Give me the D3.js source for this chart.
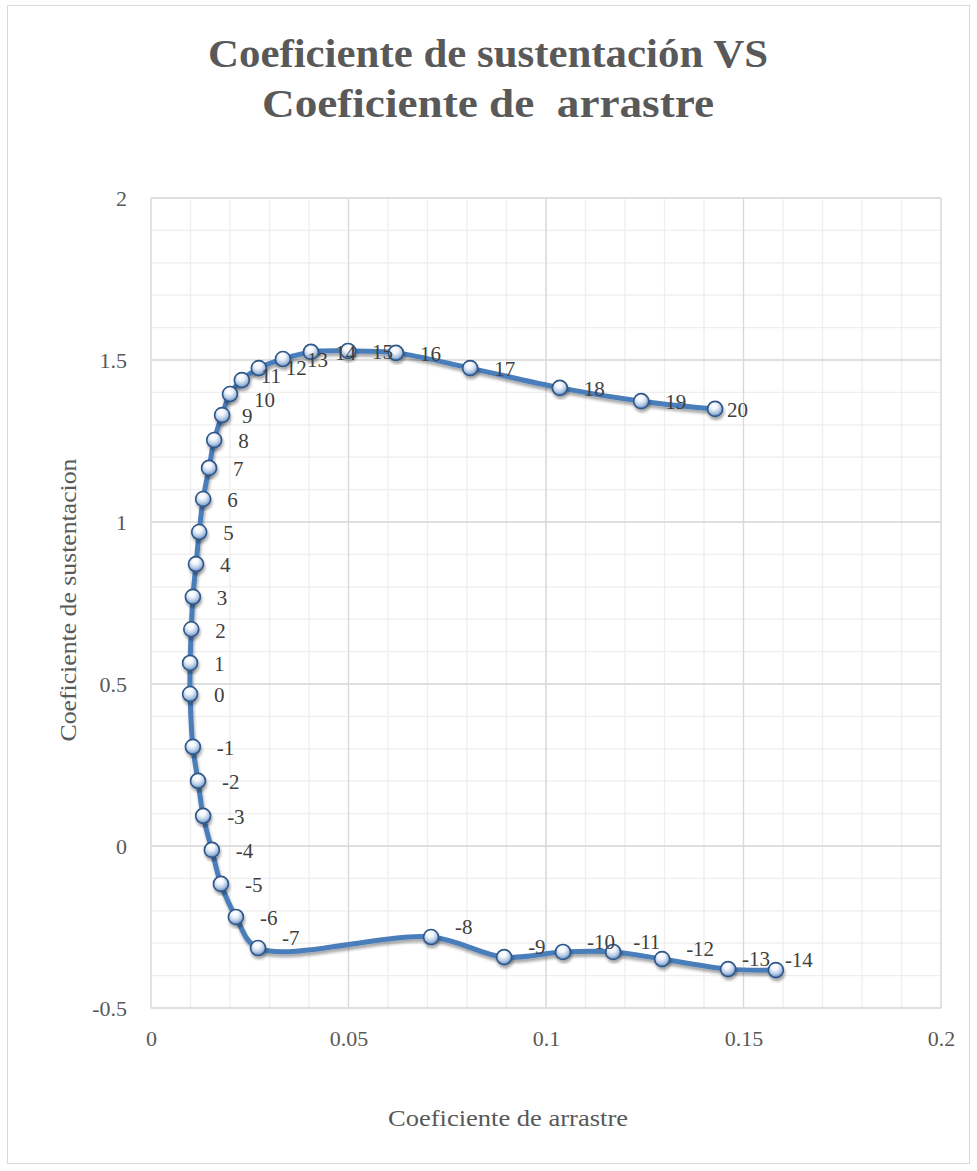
<!DOCTYPE html>
<html>
<head>
<meta charset="utf-8">
<script src="https://cdn.jsdelivr.net/npm/d3@7"></script>
<style>
  html, body { margin: 0; padding: 0; background: #ffffff; }
  svg { display: block; }
  text { font-family: "Liberation Serif", "DejaVu Serif", serif; }
</style>
</head>
<body>
<script>
// ---- data ----
const angles = [-14, -13, -12, -11, -10, -9, -8, -7, -6, -5, -4, -3, -2, -1,
                0, 1, 2, 3, 4, 5, 6, 7, 8, 9, 10, 11, 12, 13, 14, 15, 16, 17, 18, 19, 20];
const dragCoef = [0.1582, 0.1461, 0.1294, 0.1170, 0.1043, 0.0894, 0.0709, 0.0271, 0.0215, 0.0177,
                  0.0154, 0.0132, 0.0119, 0.0106, 0.0099, 0.0099, 0.0102, 0.0106, 0.0114, 0.0122,
                  0.0132, 0.0147, 0.0160, 0.0180, 0.0200, 0.0230, 0.0273, 0.0334, 0.0405, 0.0499,
                  0.0620, 0.0808, 0.1035, 0.1241, 0.1428];
const liftCoef = [-0.383, -0.380, -0.349, -0.327, -0.327, -0.343, -0.281, -0.315, -0.219, -0.117,
                  -0.012, 0.093, 0.201, 0.306, 0.469, 0.565, 0.669, 0.769, 0.870, 0.969,
                  1.071, 1.167, 1.253, 1.330, 1.395, 1.438, 1.475, 1.503, 1.525, 1.528,
                  1.522, 1.475, 1.414, 1.373, 1.349];
const xTicks = [0, 0.05, 0.1, 0.15, 0.2];
const yTicks = [-0.5, 0, 0.5, 1, 1.5, 2];
const yTickLabels = ["-0.5", "0", "0.5", "1", "1.5", "2"];
const xTickLabels = ["0", "0.05", "0.1", "0.15", "0.2"];
const titleLines = ["Coeficiente de sustentación VS", "Coeficiente de  arrastre"];
const xTitle = "Coeficiente de arrastre";
const yTitle = "Coeficiente de sustentacion";

// ---- layout ----
const W = 977, H = 1171;
const plot = { left: 151, right: 941, top: 198, bottom: 1008 };

const svg = d3.select("body").append("svg").attr("width", W).attr("height", H);
const defs = svg.append("defs");

const grad = defs.append("radialGradient").attr("id", "ball")
  .attr("cx", "45%").attr("cy", "35%").attr("r", "65%").attr("fx", "42%").attr("fy", "25%");
grad.append("stop").attr("offset", "0%").attr("stop-color", "#ffffff");
grad.append("stop").attr("offset", "35%").attr("stop-color", "#f2f6fb");
grad.append("stop").attr("offset", "70%").attr("stop-color", "#b4c9e4");
grad.append("stop").attr("offset", "100%").attr("stop-color", "#5b87c0");

const sh = defs.append("filter").attr("id", "shadow").attr("x", "-30%").attr("y", "-30%").attr("width", "160%").attr("height", "160%");
sh.append("feGaussianBlur").attr("in", "SourceAlpha").attr("stdDeviation", 1.8).attr("result", "b");
sh.append("feOffset").attr("in", "b").attr("dx", 1).attr("dy", 3).attr("result", "o");
sh.append("feComponentTransfer").attr("in", "o").attr("result", "oa")
  .append("feFuncA").attr("type", "linear").attr("slope", 0.35);
const m = sh.append("feMerge");
m.append("feMergeNode").attr("in", "oa");
m.append("feMergeNode").attr("in", "SourceGraphic");

// chart border
svg.append("rect").attr("x", 7.5).attr("y", 5.5).attr("width", 962).attr("height", 1158)
  .attr("fill", "#ffffff").attr("stroke", "#d9d9d9").attr("stroke-width", 1);

const x = d3.scaleLinear().domain([0, 0.2]).range([plot.left, plot.right]);
const y = d3.scaleLinear().domain([-0.5, 2]).range([plot.bottom, plot.top]);

// minor gridlines
const xMinor = d3.range(0, 21).map(i => i * 0.01);
const yMinor = d3.range(0, 26).map(i => -0.5 + i * 0.1);
const g = svg.append("g");
g.selectAll(".xm").data(xMinor).join("line")
  .attr("x1", d => x(d)).attr("x2", d => x(d)).attr("y1", plot.top).attr("y2", plot.bottom)
  .attr("stroke", "#eeeeee").attr("stroke-width", 1.3);
g.selectAll(".ym").data(yMinor).join("line")
  .attr("y1", d => y(d)).attr("y2", d => y(d)).attr("x1", plot.left).attr("x2", plot.right)
  .attr("stroke", "#eeeeee").attr("stroke-width", 1.3);
// major gridlines
g.selectAll(".xM").data(xTicks).join("line")
  .attr("x1", d => x(d)).attr("x2", d => x(d)).attr("y1", plot.top).attr("y2", plot.bottom)
  .attr("stroke", "#d9d9d9").attr("stroke-width", 1.3);
g.selectAll(".yM").data(yTicks).join("line")
  .attr("y1", d => y(d)).attr("y2", d => y(d)).attr("x1", plot.left).attr("x2", plot.right)
  .attr("stroke", "#d9d9d9").attr("stroke-width", 1.3);

// axes (labels only)
const xAxis = d3.axisBottom(x).tickValues(xTicks).tickFormat((d, i) => xTickLabels[i]).tickSize(0).tickPadding(22);
const yAxis = d3.axisLeft(y).tickValues(yTicks).tickFormat((d, i) => yTickLabels[i]).tickSize(0).tickPadding(24);
const gx = svg.append("g").attr("transform", `translate(0,${plot.bottom})`).call(xAxis);
const gy = svg.append("g").attr("transform", `translate(${plot.left},0)`).call(yAxis);
[gx, gy].forEach(a => {
  a.select(".domain").remove();
  a.selectAll("text").attr("font-family", "Liberation Serif, serif").attr("font-size", 22).attr("fill", "#595959");
});
gx.selectAll("text").attr("dy", "0.71em");

// titles
svg.selectAll(".title").data(titleLines).join("text")
  .attr("x", 488).attr("y", (d, i) => 67 + i * 50)
  .attr("text-anchor", "middle").attr("font-size", 40).attr("font-weight", "bold")
  .attr("fill", "#595959").style("white-space", "pre")
  .attr("textLength", (d, i) => i === 0 ? 560 : 452).attr("lengthAdjust", "spacingAndGlyphs")
  .text(d => d);

svg.append("text").attr("x", 508).attr("y", 1126).attr("text-anchor", "middle")
  .attr("font-size", 23).attr("fill", "#595959")
  .attr("textLength", 240).attr("lengthAdjust", "spacingAndGlyphs").text(xTitle);
svg.append("text").attr("transform", "translate(76,600) rotate(-90)").attr("text-anchor", "middle")
  .attr("font-size", 23).attr("fill", "#595959")
  .attr("textLength", 283).attr("lengthAdjust", "spacingAndGlyphs").text(yTitle);

// series
const pts = angles.map((a, i) => ({ a, cd: dragCoef[i], cl: liftCoef[i] }));
const line = d3.line().x(d => x(d.cd)).y(d => y(d.cl)).curve(d3.curveCatmullRom.alpha(0.5));
svg.append("path").datum(pts).attr("d", line)
  .attr("fill", "none").attr("stroke", "#4a7ebb").attr("stroke-width", 5)
  .attr("stroke-linejoin", "round").attr("stroke-linecap", "round")
  .attr("filter", "url(#shadow)");

svg.append("g").selectAll("circle").data(pts).join("circle")
  .attr("cx", d => x(d.cd)).attr("cy", d => y(d.cl)).attr("r", 7.5)
  .attr("fill", "url(#ball)").attr("stroke", "#2f5689").attr("stroke-width", 1.6)
  .attr("filter", "url(#shadow)");

// data labels (placed to the right; lower branch nudged up)
const nudge = { "20": [-12, 0], "-13": [-10, 0], "-14": [-15, 0], "-11": [-4, 0],
                "9": [-4, 0], "10": [0, 5], "11": [-5, -5], "12": [3, -1] };
svg.append("g").selectAll("text").data(pts).join("text")
  .attr("x", d => x(d.cd) + 24 + (nudge[d.a] ? nudge[d.a][0] : 0))
  .attr("y", d => y(d.cl) + (d.a <= -7 ? -10 : 1) + (nudge[d.a] ? nudge[d.a][1] : 0))
  .attr("dy", "0.35em").attr("font-size", 21).attr("fill", "#404040")
  .text(d => String(d.a));
</script>
</body>
</html>
